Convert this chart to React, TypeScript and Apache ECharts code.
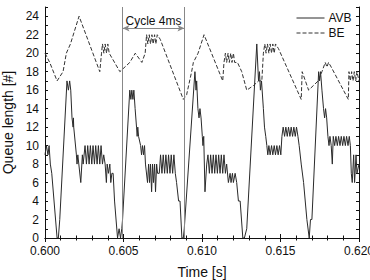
import React, { useEffect, useRef } from "react";
import * as echarts from "echarts";

// Time axis [s] and queue length axis [#]
const X_MIN = 0.6;
const X_MAX = 0.62;
const X_STEP = 0.005;
const Y_MIN = 0;
const Y_MAX = 25;
const Y_LABELS = [0, 2, 4, 6, 8, 10, 12, 14, 16, 18, 20, 22, 24];

// cycle markers
const CYCLE_START = 0.60494;
const CYCLE_END = 0.60888;
const CYCLE_ARROW_Y = 22.7;
const CYCLE_LABEL = "Cycle 4ms";

const SERIES_NAMES = ["AVB", "BE"];

const avb: [number, number][] = [
  [0.6, 9], [0.60009, 10], [0.60019, 9], [0.60026, 10], [0.60034, 8], [0.60043, 7],
  [0.60077, 0], [0.60085, 0], [0.60094, 2], [0.6014, 17], [0.60149, 16], [0.60157, 17],
  [0.60164, 16], [0.60172, 13], [0.60179, 12], [0.60181, 13], [0.60183, 12], [0.602, 9],
  [0.60204, 8], [0.60209, 9], [0.60228, 6], [0.60238, 9], [0.60243, 8], [0.60255, 10],
  [0.60264, 8], [0.60272, 10], [0.60281, 8], [0.60289, 10], [0.60298, 8], [0.60306, 10],
  [0.60315, 8], [0.60323, 10], [0.60332, 8], [0.6034, 10], [0.60349, 8], [0.60357, 10],
  [0.60366, 8], [0.60374, 9], [0.60383, 8], [0.60391, 6], [0.60396, 8], [0.60404, 7],
  [0.60413, 8], [0.60419, 6], [0.60426, 7], [0.60434, 7], [0.60443, 4], [0.60462, 0],
  [0.60472, 1], [0.60481, 0], [0.60489, 1], [0.60494, 2], [0.6054, 16], [0.60547, 15],
  [0.60553, 16], [0.6056, 15], [0.60566, 16], [0.60574, 14], [0.60583, 12], [0.60587, 11],
  [0.60591, 12], [0.60596, 11], [0.60609, 10], [0.60615, 9], [0.60621, 10], [0.60628, 9],
  [0.60634, 10], [0.6064, 8], [0.60653, 6], [0.6066, 8], [0.60666, 6], [0.60672, 8],
  [0.60679, 5], [0.60685, 8], [0.60691, 6], [0.60698, 8], [0.60704, 5], [0.60711, 8],
  [0.60717, 7], [0.60728, 7], [0.60736, 9], [0.60745, 7], [0.60753, 9], [0.60762, 7],
  [0.6077, 9], [0.60779, 7], [0.60787, 9], [0.60796, 7], [0.60804, 9], [0.60813, 7],
  [0.60821, 9], [0.6083, 7], [0.60838, 6], [0.60851, 4], [0.6086, 4], [0.60872, 0],
  [0.60881, 0], [0.60887, 1], [0.60955, 18], [0.60962, 16], [0.60966, 17], [0.60974, 14],
  [0.60981, 13], [0.60987, 14], [0.60994, 13], [0.61002, 11], [0.61006, 10], [0.61011, 11],
  [0.61019, 5], [0.6103, 8], [0.61038, 9], [0.61047, 7], [0.61055, 9], [0.61064, 7],
  [0.61072, 9], [0.61081, 7], [0.61089, 9], [0.61098, 7], [0.61106, 9], [0.61115, 7],
  [0.61123, 9], [0.61132, 7], [0.6114, 9], [0.61149, 7], [0.61157, 8], [0.61168, 6],
  [0.61179, 7], [0.61185, 6], [0.61194, 7], [0.612, 6], [0.61211, 7], [0.61221, 6],
  [0.61232, 4], [0.61243, 4], [0.6126, 0], [0.6127, 0], [0.61285, 1], [0.61349, 21],
  [0.6136, 17], [0.61366, 18], [0.61372, 16], [0.61379, 17], [0.61391, 14], [0.61398, 12],
  [0.61406, 11], [0.61413, 10], [0.61419, 9], [0.61426, 10], [0.61434, 9], [0.61443, 10],
  [0.61451, 9], [0.6146, 10], [0.61468, 9], [0.61477, 10], [0.61485, 9], [0.61494, 10],
  [0.61502, 9], [0.61509, 11], [0.61517, 12], [0.61526, 11], [0.61534, 12], [0.61543, 11],
  [0.61551, 12], [0.6156, 11], [0.61568, 12], [0.61577, 11], [0.61585, 12], [0.61594, 11],
  [0.61602, 12], [0.61611, 11], [0.61619, 10], [0.61632, 8], [0.61647, 6], [0.61668, 2],
  [0.61683, 0], [0.61691, 2], [0.617, 2], [0.61743, 18], [0.61749, 17], [0.61755, 18],
  [0.61764, 16], [0.61774, 14], [0.61781, 13], [0.61787, 14], [0.61794, 13], [0.61802, 11],
  [0.61809, 10], [0.61815, 11], [0.61823, 10], [0.6183, 8], [0.61836, 11], [0.61845, 10],
  [0.61853, 11], [0.61862, 10], [0.6187, 11], [0.61879, 10], [0.61887, 11], [0.61896, 10],
  [0.61904, 11], [0.61913, 10], [0.61921, 11], [0.6193, 10], [0.61938, 11], [0.61945, 10],
  [0.61951, 7], [0.61957, 6], [0.61966, 9], [0.61972, 6], [0.61981, 9], [0.61987, 7],
  [0.62, 8],
];

const be: [number, number][] = [
  [0.6, 20], [0.6003, 19], [0.60077, 17], [0.60115, 18], [0.60136, 20], [0.60162, 21],
  [0.60217, 24], [0.60349, 18], [0.6036, 20], [0.60366, 21], [0.60375, 20], [0.60383, 21],
  [0.60392, 20], [0.604, 21], [0.60409, 20], [0.60477, 18], [0.6054, 19], [0.60575, 20],
  [0.60617, 19], [0.60638, 20], [0.60647, 22], [0.60655, 21], [0.60664, 22], [0.60672, 21],
  [0.60681, 22], [0.60689, 21], [0.60698, 22], [0.60706, 21], [0.60715, 22], [0.60734, 21.5],
  [0.60881, 15], [0.60902, 15.5], [0.60934, 18], [0.60945, 19], [0.60975, 20], [0.61013, 22],
  [0.61132, 17], [0.6114, 19], [0.61149, 20], [0.61157, 19], [0.61166, 20], [0.61174, 19],
  [0.61183, 20], [0.61191, 19], [0.612, 20], [0.61208, 19], [0.61226, 19], [0.61253, 18],
  [0.61285, 16], [0.61328, 16.5], [0.6136, 17], [0.61381, 17], [0.61391, 20], [0.614, 21],
  [0.61408, 20], [0.61417, 21], [0.61426, 20], [0.61434, 21], [0.61443, 20], [0.61451, 21],
  [0.6146, 20], [0.61468, 21], [0.61487, 20.5], [0.61632, 15], [0.61638, 18], [0.61679, 16],
  [0.6174, 17], [0.61764, 18], [0.61785, 19], [0.61796, 18.5], [0.61806, 19], [0.61823, 18.5],
  [0.61932, 15], [0.61936, 18], [0.61945, 17], [0.61953, 18], [0.61962, 17], [0.6197, 18],
  [0.61979, 17], [0.61987, 18], [0.62, 17],
];

const FONT = "Liberation Sans, Arial, sans-serif";
const AVB_COLOR = "#2a2a2a";
const BE_COLOR = "#333";
const BE_DASH = [4, 2];

export default function App() {
  const ref = useRef<HTMLDivElement>(null);
  useEffect(() => {
    document.body.style.margin = "0";
    const chart = echarts.init(ref.current!, null, { renderer: "svg" });
    const axisLine = { show: true, lineStyle: { color: "#111", width: 1 } };
    const tick = { show: true, inside: true, length: 4, lineStyle: { color: "#111" } };
    const minor = { show: true, splitNumber: 5, length: 2.5, lineStyle: { color: "#111" } };
    const legendText = { fontSize: 12, fill: "#111", fontFamily: FONT };
    chart.setOption({
      animation: false,
      backgroundColor: "#fff",
      textStyle: { fontFamily: FONT },
      grid: { left: 45, right: 11, top: 7, bottom: 42, containLabel: false, outerBoundsMode: "none" },
      graphic: [
        {
          type: "group",
          left: 294,
          top: 12,
          z: 100,
          children: [
            { type: "line", shape: { x1: 0, y1: 7, x2: 28, y2: 7 }, style: { stroke: AVB_COLOR, lineWidth: 1 } },
            { type: "text", x: 32, y: 7, style: { ...legendText, text: SERIES_NAMES[0], verticalAlign: "middle" } },
            { type: "line", shape: { x1: 0, y1: 22, x2: 28, y2: 22 }, style: { stroke: BE_COLOR, lineWidth: 1, lineDash: BE_DASH } },
            { type: "text", x: 32, y: 22, style: { ...legendText, text: SERIES_NAMES[1], verticalAlign: "middle" } },
          ],
        },
      ],
      xAxis: [
        {
          type: "value",
          min: X_MIN,
          max: X_MAX,
          interval: X_STEP,
          name: "Time [s]",
          nameLocation: "middle",
          nameGap: 27,
          nameTextStyle: { fontSize: 14, color: "#111", fontFamily: FONT },
          axisLine,
          axisTick: tick,
          minorTick: minor,
          splitLine: { show: false },
          axisLabel: {
            fontSize: 12,
            color: "#111",
            margin: 7,
            formatter: (v: number) => v.toFixed(3),
          },
        },
        {
          type: "value",
          position: "top",
          min: X_MIN,
          max: X_MAX,
          interval: X_STEP,
          axisLine,
          axisTick: tick,
          minorTick: minor,
          splitLine: { show: false },
          axisLabel: { show: false },
        },
      ],
      yAxis: [
        {
          type: "value",
          min: Y_MIN,
          max: Y_MAX,
          interval: 1,
          name: "Queue length [#]",
          nameLocation: "middle",
          nameGap: 27,
          nameTextStyle: { fontSize: 14, color: "#111", fontFamily: FONT },
          axisLine,
          axisTick: { ...tick, length: 3 },
          splitLine: { show: false },
          axisLabel: {
            fontSize: 12,
            color: "#111",
            margin: 6,
            formatter: (v: number) => (Y_LABELS.includes(v) ? String(v) : ""),
          },
        },
        {
          type: "value",
          position: "right",
          min: Y_MIN,
          max: Y_MAX,
          interval: 1,
          axisLine,
          axisTick: { ...tick, length: 3 },
          splitLine: { show: false },
          axisLabel: { show: false },
        },
      ],
      series: [
        {
          name: SERIES_NAMES[0],
          type: "line",
          data: avb,
          showSymbol: false,
          symbol: "none",
          lineStyle: { color: AVB_COLOR, width: 1 },
          itemStyle: { color: AVB_COLOR },
          markLine: {
            silent: true,
            symbol: "none",
            label: { show: false },
            lineStyle: { color: "#888", width: 1, type: "solid" },
            data: [
              [{ coord: [CYCLE_START, Y_MIN] }, { coord: [CYCLE_START, Y_MAX] }],
              [{ coord: [CYCLE_END, Y_MIN] }, { coord: [CYCLE_END, Y_MAX] }],
            ],
          },
        },
        {
          name: SERIES_NAMES[1],
          type: "line",
          data: be,
          showSymbol: false,
          symbol: "none",
          lineStyle: { color: BE_COLOR, width: 1, type: BE_DASH },
          itemStyle: { color: BE_COLOR },
          markLine: {
            silent: true,
            symbol: ["arrow", "arrow"],
            symbolSize: [5, 7],
            lineStyle: { color: "#888", width: 1, type: "solid" },
            label: {
              show: true,
              position: "middle",
              formatter: CYCLE_LABEL,
              fontSize: 12,
              color: "#111",
              distance: 1,
              fontFamily: FONT,
            },
            data: [
              [
                { coord: [CYCLE_START, CYCLE_ARROW_Y] },
                { coord: [CYCLE_END, CYCLE_ARROW_Y] },
              ],
            ],
          },
        },
      ],
    });
    return () => chart.dispose();
  }, []);
  return <div ref={ref} style={{ width: 370, height: 280 }} />;
}
